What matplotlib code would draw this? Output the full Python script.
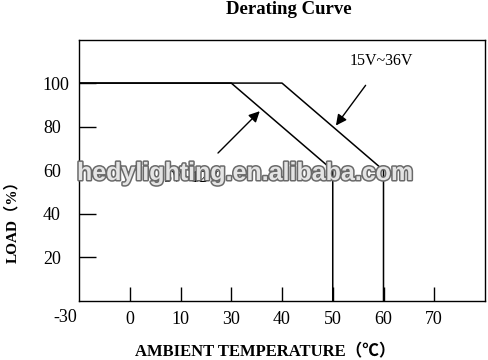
import matplotlib
matplotlib.use("Agg")
import matplotlib.pyplot as plt
import matplotlib.patheffects as pe

# ---- data ----
temp_labels = ["-30", "0", "10", "30", "40", "50", "60", "70"]
load_ticks = [20, 40, 60, 80, 100]
curve_low_temp = [-30, 30, 50, 50]      # 5V~12V
curve_low_load = [100, 100, 60, 0]
curve_high_temp = [-30, 40, 60, 60]     # 15V~36V
curve_high_load = [100, 100, 60, 0]
title = "Derating Curve"
xlabel = "AMBIENT TEMPERATURE（℃）"
ylabel = "LOAD（%）"
label_high = "15V~36V"
label_low = "5V~12V"
watermark = "hedylighting.en.alibaba.com"

fam = ["Liberation Serif", "Noto Sans CJK SC", "DejaVu Serif"]
plt.rcParams["font.family"] = fam

# schematic axis: categories evenly spaced
pos = {int(t): i for i, t in enumerate(temp_labels)}
def to_pos(ts):
    return [pos[t] for t in ts]

fig = plt.figure(figsize=(4.89, 3.6), dpi=100)
ax = fig.add_axes([79/489, 1-301/360, (485-79)/489, (301-39.5)/360])

ax.plot(to_pos(curve_low_temp), curve_low_load, color="black", lw=1.1)
ax.plot(to_pos(curve_high_temp), curve_high_load, color="black", lw=1.1)

ax.set_xlim(0, 8)
ax.set_ylim(0, 120)
ax.set_xticks(range(1, len(temp_labels)))
ax.set_xticklabels(temp_labels[1:], fontsize=13)
ax.text(-0.27, -0.062, temp_labels[0], transform=ax.get_xaxis_transform(),
        ha="center", va="center", fontsize=13)
ax.set_yticks(load_ticks)
ax.set_yticklabels([str(v) for v in load_ticks], fontsize=13)
for lab in ax.get_yticklabels():
    lab.set_horizontalalignment("left")
ax.tick_params(axis="y", direction="in", length=12, width=1, pad=26)
ax.tick_params(axis="x", direction="in", length=10, width=1, pad=7)
for s in ax.spines.values():
    s.set_linewidth(1)

# annotations
ax.annotate("", xy=(5.03, 79.5), xytext=(5.68, 100),
            arrowprops=dict(arrowstyle="-|>", color="black", lw=1, mutation_scale=16))
ax.text(5.95, 110, label_high, ha="center", va="center", fontsize=11.5)
ax.annotate("", xy=(3.6, 88), xytext=(2.7, 67),
            arrowprops=dict(arrowstyle="-|>", color="black", lw=1, mutation_scale=16))
ax.text(2.2, 56.5, label_low, ha="center", va="center", fontsize=11.5)

# watermark
fig.text(245/489, 1-173/360, watermark, ha="center", va="center",
         fontsize=18, fontweight="bold", family="Liberation Sans", color="#e4e4e4",
         path_effects=[pe.withStroke(linewidth=2.2, foreground="#6a6a6a")])

fig.text(289/489, 1-10/360, title, ha="center", va="center",
         fontsize=13.5, fontweight="bold")
fig.text(265/489, 1-352/360, xlabel, ha="center", va="center",
         fontsize=12, fontweight="bold")
fig.text(12/489, 1-218/360, ylabel, ha="center", va="center",
         fontsize=11, fontweight="bold", rotation=90)

fig.savefig("out.png", dpi=100)
